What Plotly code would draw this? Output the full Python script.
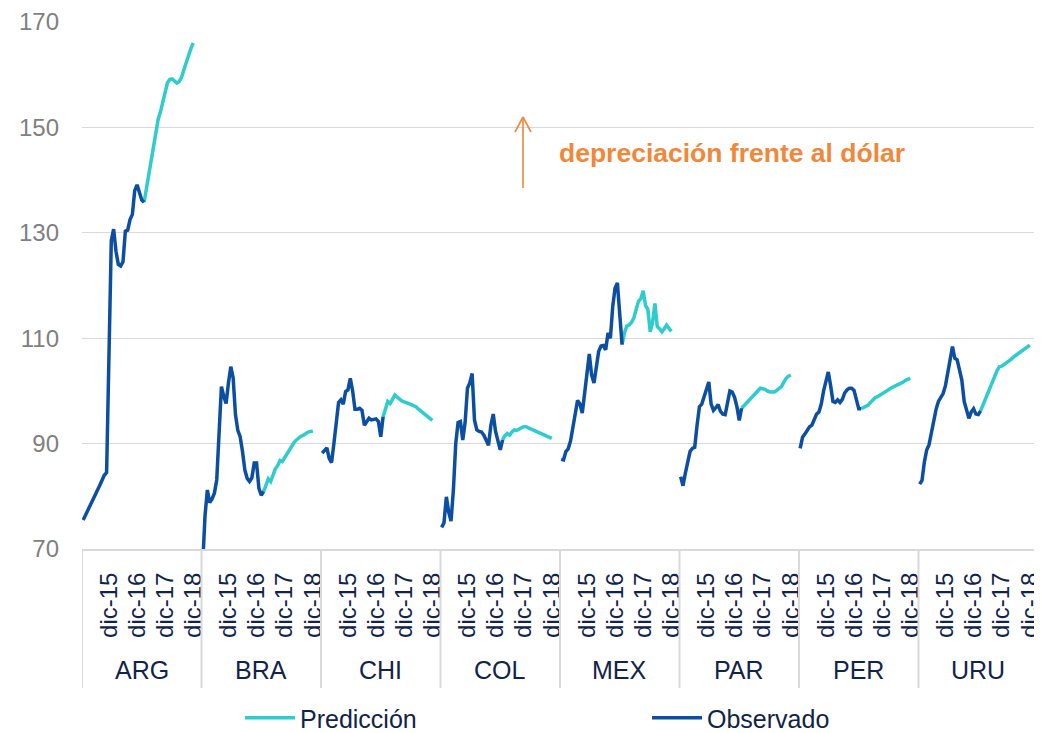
import plotly.graph_objects as go

# ---------------- data ----------------
countries = ["ARG", "BRA", "CHI", "COL", "MEX", "PAR", "PER", "URU"]
n_months = 51  # categories per country group: ene-15 ... mar-19
tick_months = [11, 23, 35, 47]
tick_labels = ["dic-15", "dic-16", "dic-17", "dic-18"]
pred_start = 26  # mar-17

arg_obs = [75.5, 76.4, 77.3, 78.1, 79.0, 80.0, 81.0, 82.0, 83.0, 84.0, 84.5, 105.0, 128.5, 130.7,
           126.5, 124.0, 123.7, 124.5, 130.3, 130.5, 132.5, 133.5, 138.0, 139.1, 137.5, 136.2, 135.8]
arg_pred = [135.8, 138.5, 141.0, 143.5, 146.5, 149.5, 151.5, 153.0, 155.0, 157.2, 158.5, 159.1,
            159.2, 158.8, 158.4, 158.7, 159.5, 161.0, 162.5, 164.0, 165.0, 166.0]

bra_obs = [67.0, 76.3, 81.2, 78.8, 79.5, 80.6, 83.1, 93.0, 100.8, 99.0, 97.6, 101.5, 104.6, 102.5,
           95.5, 92.5, 91.3, 88.5, 85.0, 83.4, 82.8, 83.5, 86.3, 86.3, 81.5, 80.2, 80.9]
bra_pred = [80.9, 82.0, 83.3, 82.8, 84.0, 85.2, 85.8, 86.8, 86.6, 87.3, 88.2, 89.0, 89.6, 90.2,
            90.7, 91.1, 91.4, 91.6, 91.9, 92.2, 92.3, 92.4]

chi_obs = [88.2, 88.8, 89.2, 87.2, 86.4, 90.0, 94.5, 97.8, 98.3, 97.5, 99.9, 100.2, 102.4, 100.0,
           96.5, 96.5, 96.7, 96.3, 93.5, 94.3, 94.8, 94.5, 94.6, 94.7, 94.2, 91.3, 95.1]
chi_pred = [95.1, 96.5, 98.0, 97.6, 98.4, 99.2, 98.8, 98.4, 98.1, 97.9, 97.8, 97.6, 97.4, 97.2,
            97.0, 96.6, 96.2, 95.8, 95.4, 95.0, 94.7, 94.4]

col_obs = [74.1, 75.0, 79.9, 77.0, 75.3, 81.2, 90.0, 94.0, 94.2, 90.7, 94.0, 100.5, 101.5, 103.3,
           94.5, 92.6, 92.3, 92.2, 91.6, 90.6, 89.7, 93.5, 95.6, 92.3, 90.5, 88.8, 90.7]
col_pred = [90.7, 91.5, 91.9, 91.6, 92.2, 92.6, 92.5, 92.8, 93.0, 93.2, 93.2, 93.0, 92.8, 92.6,
            92.4, 92.2, 92.0, 91.8, 91.6, 91.4, 91.2, 91.0]

mex_obs = [87.0, 86.9, 88.5, 89.0, 90.5, 92.8, 95.5, 98.2, 97.5, 95.8, 99.5, 103.5, 107.0, 103.0,
           101.5, 104.5, 107.5, 108.5, 108.6, 107.8, 111.0, 110.0, 116.0, 119.5, 120.5, 114.5, 108.8]
mex_pred = [108.8, 111.0, 112.3, 112.5, 113.0, 113.8, 115.5, 117.0, 117.5, 119.0, 116.2, 115.5,
            111.2, 113.0, 116.6, 112.2, 111.8, 111.2, 111.8, 112.5, 111.9, 111.3]

par_obs = [83.7, 82.0, 84.4, 86.5, 88.5, 89.1, 89.3, 93.5, 97.0, 97.5, 99.0, 100.0, 101.7, 97.5,
           96.3, 96.8, 97.4, 96.1, 95.6, 95.5, 97.5, 100.0, 99.8, 98.8, 97.0, 94.4, 96.7]
par_pred = [96.7, 97.2, 97.5, 98.0, 98.6, 99.1, 99.6, 100.1, 100.5, 100.4, 100.3, 100.0, 99.8,
            99.8, 99.8, 100.1, 100.4, 100.8, 101.6, 102.4, 102.8, 103.0]

per_obs = [89.1, 91.2, 91.8, 92.5, 93.2, 93.5, 94.5, 95.6, 96.0, 97.5, 100.0, 101.8, 103.6, 101.0,
           98.0, 97.8, 98.3, 97.8, 98.4, 99.6, 100.2, 100.5, 100.5, 100.1, 98.0, 96.6, 96.6]
per_pred = [96.6, 96.8, 97.0, 97.3, 97.8, 98.3, 98.7, 98.9, 99.2, 99.5, 99.8, 100.1, 100.3, 100.6,
            100.8, 101.0, 101.3, 101.5, 101.7, 102.0, 102.2, 102.4]

uru_obs = [82.3, 83.0, 86.5, 88.8, 89.8, 92.0, 95.0, 96.5, 98.0, 98.8, 99.5, 101.0, 103.3, 106.0,
           108.4, 106.2, 105.9, 104.0, 102.0, 98.0, 96.4, 94.8, 96.0, 96.6, 95.6, 95.5, 96.2]
uru_pred = [96.2, 97.3, 98.5, 99.7, 100.8, 101.8, 102.8, 103.8, 104.6, 104.7, 105.0, 105.3, 105.7,
            106.0, 106.4, 106.7, 107.0, 107.4, 107.7, 108.0, 108.3, 108.7]

observed = [arg_obs, bra_obs, chi_obs, col_obs, mex_obs, par_obs, per_obs, uru_obs]
predicted = [arg_pred, bra_pred, chi_pred, col_pred, mex_pred, par_pred, per_pred, uru_pred]

# ---------------- styling ----------------
C_PRED = "#2ECCCC"
C_OBS = "#0B4EA2"
GRID = "#D9D9D9"
TXT = "#12234A"
ORANGE = "#F0873A"
FONT = "Liberation Sans, Arial, sans-serif"

# page is shown with the browser's default 8px body margin
OFF = 8
PLOT_L, PLOT_R, PLOT_T, PLOT_B = 82, 1038, 22, 549   # target screen positions
PW = PLOT_R - PLOT_L
PH = PLOT_B - PLOT_T
FIG_W, FIG_H = 1060, 770


def build(series_list, start):
    xs, ys = [], []
    for g, vals in enumerate(series_list):
        for i, v in enumerate(vals):
            xs.append(g * n_months + start + i)
            ys.append(v)
        xs.append(None)
        ys.append(None)
    return xs, ys


def px(sx):
    return (sx - PLOT_L) / PW


def py(sy):
    return (PLOT_B - sy) / PH


fig = go.Figure()
xo, yo = build(observed, 0)
xp, yp = build(predicted, pred_start)
fig.add_trace(go.Scatter(x=xp, y=yp, mode="lines", name="Predicción",
                         line=dict(color=C_PRED, width=3.5), legendrank=1, legendwidth=342))
fig.add_trace(go.Scatter(x=xo, y=yo, mode="lines", name="Observado",
                         line=dict(color=C_OBS, width=3.5), legendrank=2, legendwidth=130))

tickvals, ticktext = [], []
for g in range(len(countries)):
    for m, lab in zip(tick_months, tick_labels):
        tickvals.append(g * n_months + m)
        ticktext.append(lab)

total = n_months * len(countries)
fig.update_xaxes(range=[-0.5, total - 0.5], tickvals=tickvals, ticktext=ticktext,
                 tickangle=-90, showgrid=False, zeroline=False, ticks="",
                 showline=True, linecolor=GRID, linewidth=2, automargin=False,
                 ticklabeloverflow="allow",
                 tickfont=dict(family=FONT, size=24, color=TXT),
                 ticklabelstandoff=12)
fig.update_yaxes(range=[70, 170], dtick=20, tick0=70, showgrid=True, gridcolor=GRID,
                 gridwidth=1, zeroline=False, showline=False, ticks="", automargin=False,
                 tickfont=dict(family=FONT, size=24, color="#7F7F7F"),
                 ticklabelstandoff=22)

shapes = []
for g in range(len(countries) + 1):
    xv = g * n_months - 0.5
    shapes.append(dict(type="line", xref="x", yref="paper", x0=xv, x1=xv, y0=0, y1=py(688),
                       line=dict(color=GRID, width=2)))

# arrow (shaft + open head)
for (x0, y0, x1, y1) in [(523, 188, 523, 117), (523, 117, 515, 132), (523, 117, 531, 132)]:
    shapes.append(dict(type="line", xref="paper", yref="paper", x0=px(x0), y0=py(y0),
                       x1=px(x1), y1=py(y1), line=dict(color=ORANGE, width=1.6)))

annotations = []
for g, c in enumerate(countries):
    annotations.append(dict(x=g * n_months + (n_months - 1) / 2, y=py(670), xref="x", yref="paper",
                            text=c, showarrow=False, yanchor="middle",
                            font=dict(family=FONT, size=25, color=TXT)))
annotations.append(dict(x=px(557), y=py(153), xref="paper", yref="paper",
                        text="<b>depreciación frente al dólar</b>", showarrow=False,
                        xanchor="left", yanchor="middle",
                        font=dict(family=FONT, size=26.5, color=ORANGE)))

fig.update_layout(
    width=FIG_W, height=FIG_H,
    margin=dict(l=PLOT_L - OFF, r=FIG_W - (PLOT_R - OFF), t=PLOT_T - OFF,
                b=FIG_H - (PLOT_B - OFF)),
    plot_bgcolor="white", paper_bgcolor="white",
    shapes=shapes, annotations=annotations,
    showlegend=True,
    legend=dict(orientation="h", x=px(240), y=py(741), xanchor="left", yanchor="bottom",
                font=dict(family=FONT, size=25, color=TXT),
                itemwidth=50, borderwidth=0, bgcolor="rgba(0,0,0,0)"),
)

fig.write_html("out.html")
